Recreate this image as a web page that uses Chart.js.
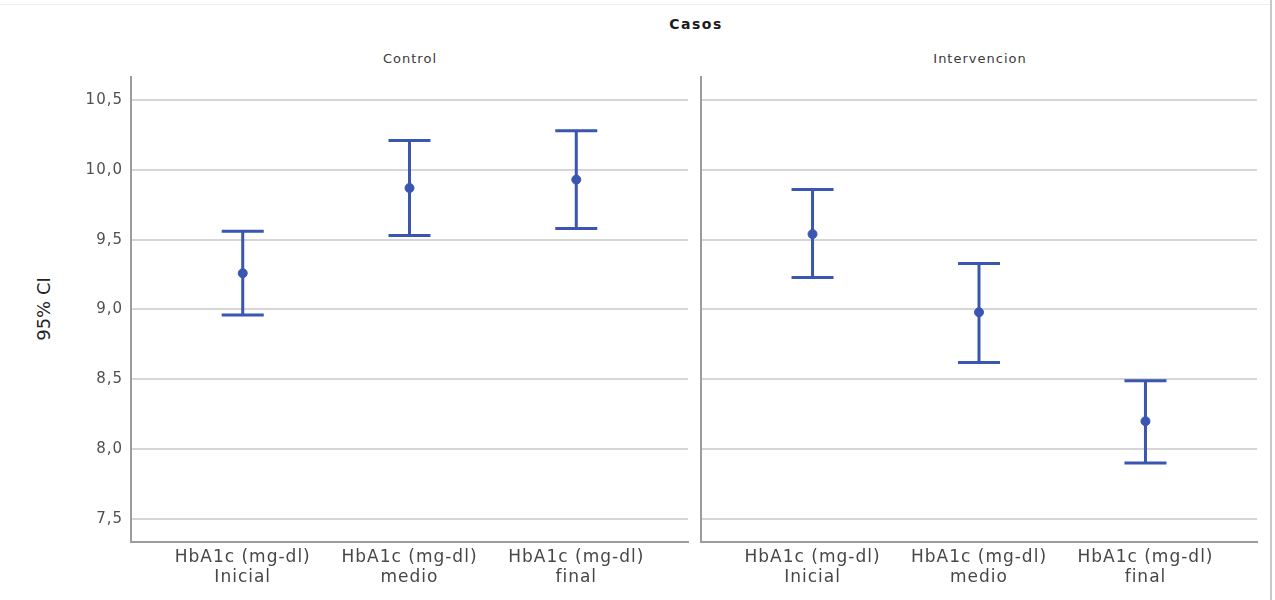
<!DOCTYPE html>
<html>
<head>
<meta charset="utf-8">
<script src="https://cdn.jsdelivr.net/npm/chart.js@4/dist/chart.umd.min.js"></script>
<style>
    html, body { margin: 0; padding: 0; background: #fff; }
    #wrap { position: relative; width: 1275px; height: 600px; overflow: hidden; font-family: 'DejaVu Sans', sans-serif; }
    .txt { position: absolute; transform: translateX(-50%); white-space: nowrap; }
    #title-main { left: 696px; top: 16px; font-size: 14px; font-weight: bold; letter-spacing: 1.5px; color: #1a1a1a; }
    .panel-title { top: 51px; font-size: 13px; letter-spacing: 1px; color: #3a3a3a; }
    #y-title { position: absolute; left: 43px; top: 309px; transform: translate(-50%, -50%) rotate(-90deg);
               font-size: 18px; color: #222; white-space: nowrap; }
    #border-top { position: absolute; left: 0; top: 4px; width: 1272px; height: 1px; background: #ededed; }
    #border-right { position: absolute; left: 1270px; top: 0; width: 2px; height: 600px; background: #c8c8c8; }
    canvas { position: absolute; top: 0; }
</style>
</head>
<body>
<div id="wrap">
    <div id="border-top"></div>
    <div id="border-right"></div>
    <div id="title-main" class="txt">Casos</div>
    <div class="txt panel-title" style="left:410px">Control</div>
    <div class="txt panel-title" style="left:980px">Intervencion</div>
    <div id="y-title">95% CI</div>
    <canvas id="chart-control" width="690" height="600" style="left:0px"></canvas>
    <canvas id="chart-interv" width="585" height="600" style="left:690px"></canvas>
</div>
<script>
// Kategorien (x-Achse)
const categories = [
    ['HbA1c (mg-dl)', 'Inicial'],
    ['HbA1c (mg-dl)', 'medio'],
    ['HbA1c (mg-dl)', 'final']
];

// Y-Achse Ticks
const yTicks = [7.5, 8.0, 8.5, 9.0, 9.5, 10.0, 10.5];

// Control: Mittelwert und 95% CI
const controlMean = [9.26, 9.87, 9.93];
const controlLower = [8.96, 9.53, 9.58];
const controlUpper = [9.56, 10.21, 10.28];

// Intervencion: Mittelwert und 95% CI
const intervMean = [9.54, 8.98, 8.20];
const intervLower = [9.23, 8.62, 7.90];
const intervUpper = [9.86, 9.33, 8.49];

const BLUE = '#3a56b0';
const GRID = '#d6d6d6';
const AXIS = '#9c9c9c';

Chart.defaults.font.family = "'DejaVu Sans', sans-serif";

// etwas breitere Schrift wie im Original
const letterSpacingPlugin = {
    id: 'letterSpacing',
    beforeLayout(chart) { chart.ctx.letterSpacing = '1px'; },
    beforeDraw(chart) { chart.ctx.letterSpacing = '1px'; }
};

// Fehlerbalken über die Skalen zeichnen
const errorBarPlugin = {
    id: 'errorBars',
    beforeDatasetsDraw(chart, args, opts) {
        const { ctx, scales: { x, y } } = chart;
        ctx.save();
        ctx.strokeStyle = BLUE;
        ctx.lineWidth = 3;
        opts.lower.forEach((lo, i) => {
            const px = x.getPixelForValue(i + 1);
            const yLo = y.getPixelForValue(lo);
            const yHi = y.getPixelForValue(opts.upper[i]);
            ctx.beginPath();
            ctx.moveTo(px, yLo);
            ctx.lineTo(px, yHi);
            ctx.moveTo(px - 21, yLo);
            ctx.lineTo(px + 21, yLo);
            ctx.moveTo(px - 21, yHi);
            ctx.lineTo(px + 21, yHi);
            ctx.stroke();
        });
        ctx.restore();
    }
};

function createPanel(canvasId, means, lower, upper, withYAxis) {
    const ctx = document.getElementById(canvasId);
    return new Chart(ctx, {
        type: 'scatter',
        data: {
            datasets: [{
                data: means.map((m, i) => ({ x: i + 1, y: m })),
                backgroundColor: BLUE,
                borderColor: BLUE,
                pointRadius: 4.5,
                pointHoverRadius: 4.5
            }]
        },
        options: {
            responsive: false,
            animation: false,
            layout: {
                autoPadding: false,
                padding: { top: 77, left: 0, bottom: 0, right: withYAxis ? 2 : 18 }
            },
            plugins: {
                legend: { display: false },
                tooltip: { enabled: false },
                errorBars: { lower, upper }
            },
            scales: {
                x: {
                    type: 'linear',
                    min: 0.33,
                    max: 3.67,
                    afterBuildTicks: s => { s.ticks = categories.map((c, i) => ({ value: i + 1 })); },
                    afterFit: s => { s.height = 58; },
                    ticks: {
                        callback: (v, i) => categories[i],
                        autoSkip: false,
                        maxRotation: 0,
                        padding: 6,
                        color: '#474747',
                        font: { size: 17, lineHeight: 1.15 }
                    },
                    grid: { display: false, drawTicks: false },
                    border: { display: true, color: AXIS, width: 2 }
                },
                y: {
                    min: 7.335,
                    max: 10.665,
                    afterBuildTicks: s => { s.ticks = yTicks.map(v => ({ value: v })); },
                    afterFit: s => { s.width = withYAxis ? 131 : 11; },
                    ticks: {
                        display: withYAxis,
                        padding: 8,
                        color: '#505050',
                        font: { size: 15 },
                        callback: v => v.toFixed(1).replace('.', ',')
                    },
                    grid: { color: GRID, lineWidth: 2, drawTicks: false },
                    border: { display: true, color: AXIS, width: 2 }
                }
            }
        },
        plugins: [letterSpacingPlugin, errorBarPlugin]
    });
}

createPanel('chart-control', controlMean, controlLower, controlUpper, true);
createPanel('chart-interv', intervMean, intervLower, intervUpper, false);
</script>
</body>
</html>
